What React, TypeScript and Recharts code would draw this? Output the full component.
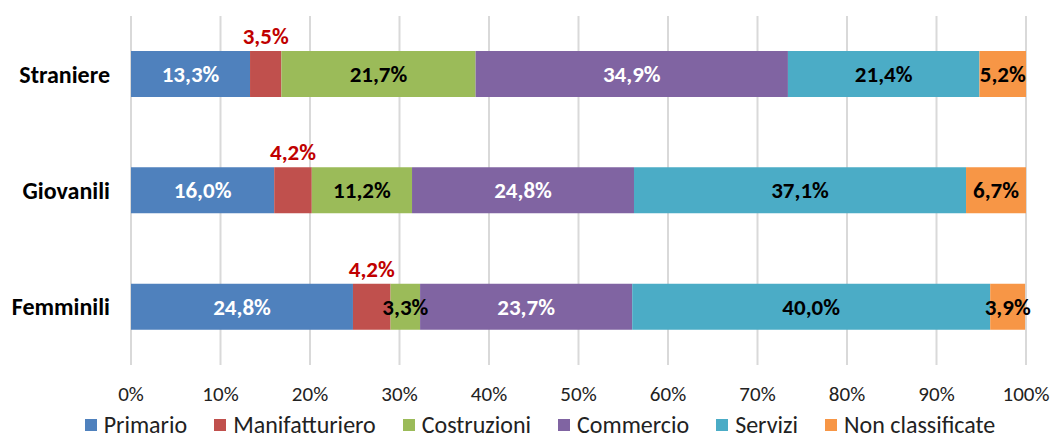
import React from 'react';
import { BarChart, Bar, XAxis, YAxis, CartesianGrid, LabelList, Legend } from 'recharts';

const categories = ['Straniere', 'Giovanili', 'Femminili'];
const seriesNames = ['Primario', 'Manifatturiero', 'Costruzioni', 'Commercio', 'Servizi', 'Non classificate'];
const primario = [13.3, 16.0, 24.8];
const manifatturiero = [3.5, 4.2, 4.2];
const costruzioni = [21.7, 11.2, 3.3];
const commercio = [34.9, 24.8, 23.7];
const servizi = [21.4, 37.1, 40.0];
const nonClassificate = [5.2, 6.7, 3.9];
const xTicks = [0, 10, 20, 30, 40, 50, 60, 70, 80, 90, 100];

const seriesValues = [primario, manifatturiero, costruzioni, commercio, servizi, nonClassificate];
const colors = ['#4F81BD', '#C0504D', '#9BBB59', '#8064A2', '#4BACC6', '#F79646'];
const labelColors = ['#FFFFFF', '#C00000', '#000000', '#FFFFFF', '#000000', '#000000'];

const data = categories.map((c, i) => {
  const row: any = { name: c };
  seriesNames.forEach((s, j) => {
    row[s] = seriesValues[j][i];
  });
  return row;
});

const FONT = 'Carlito, Calibri, Lato, sans-serif';
const fmt = (v: any) => Number(v).toFixed(1).replace('.', ',') + '%';

const LegendContent = () => (
  <div
    style={{
      display: 'flex',
      justifyContent: 'center',
      alignItems: 'flex-end',
      height: 36,
      paddingLeft: 54,
      paddingBottom: 1,
      boxSizing: 'border-box',
      fontFamily: FONT,
      fontSize: 24,
      color: '#222',
    }}
  >
    {seriesNames.map((s, i) => (
      <div key={s} style={{ display: 'flex', alignItems: 'center', marginRight: i < seriesNames.length - 1 ? 27 : 0, lineHeight: '26px', height: 26 }}>
        <span style={{ display: 'inline-block', width: 12, height: 12, background: colors[i], marginRight: 7 }} />
        <span>{s}</span>
      </div>
    ))}
  </div>
);

export default function App() {
  return (
    <div style={{ position: 'absolute', left: 0, top: 0, width: 1052, height: 439, background: '#fff' }}>
      <BarChart
        width={1052}
        height={439}
        data={data}
        layout="vertical"
        margin={{ top: 16, right: 26, left: 0, bottom: 0 }}
        barSize={46}
      >
        <CartesianGrid horizontal={false} stroke="#D9D9D9" strokeWidth={2} />
        <XAxis
          type="number"
          domain={[0, 100]}
          ticks={xTicks}
          tickFormatter={(v) => v + '%'}
          axisLine={false}
          tickLine={false}
          tickSize={0}
          tickMargin={21}
          height={38}
          interval={0}
          tick={{ fontFamily: FONT, fontSize: 21, fill: '#222' }}
        />
        <YAxis
          type="category"
          dataKey="name"
          width={131}
          axisLine={false}
          tickLine={false}
          tickSize={0}
          tickMargin={21}
          tick={{ fontFamily: FONT, fontSize: 24, fontWeight: 'bold', fill: '#000' }}
        />
        <Legend verticalAlign="bottom" height={36} content={<LegendContent />} />
        {seriesNames.map((s, i) => (
          <Bar key={s} dataKey={s} stackId="a" fill={colors[i]} isAnimationActive={false}>
            <LabelList
              dataKey={s}
              position={i === 1 ? 'top' : 'center'}
              offset={i === 1 ? 7 : 5}
              formatter={fmt}
              fill={labelColors[i]}
              style={{ fontFamily: FONT, fontSize: 23, fontWeight: 'bold' }}
            />
          </Bar>
        ))}
      </BarChart>
    </div>
  );
}
